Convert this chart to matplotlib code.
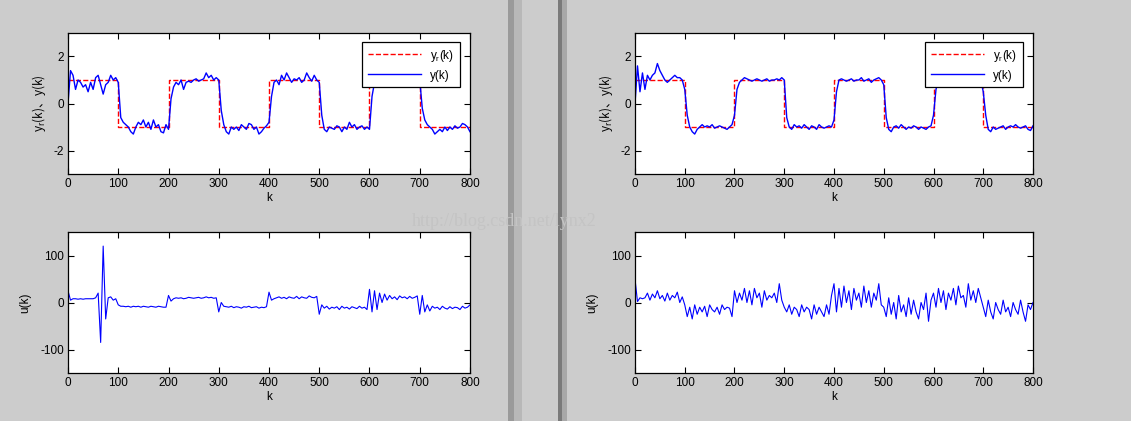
import numpy as np
import matplotlib
matplotlib.use('Agg')
import matplotlib.pyplot as plt
from matplotlib.patches import Rectangle

plt.rcParams['font.family'] = ['Liberation Sans', 'Noto Sans CJK SC']
plt.rcParams['mathtext.fontset'] = 'custom'
plt.rcParams['mathtext.rm'] = 'Liberation Sans'
plt.rcParams['mathtext.sf'] = 'Noto Sans CJK SC'
plt.rcParams['axes.unicode_minus'] = False
plt.rcParams['font.size'] = 8.5

# sample step of the read-off values
step = 5

# reference levels, one per block of 100 samples
yr_levels = [1, -1, 1, -1, 1, -1, 1, -1]

# left window: output y(k), every 5 samples from 0 to 800
y_left = [0, 1.4, 1.2, 0.6, 1.0, 0.9, 0.7, 0.8, 0.5, 0.9, 0.6, 1.1, 1.2, 0.8, 0.4, 0.8, 0.9, 1.2, 1.0, 1.1, 0.9,
          -0.6, -0.8, -0.9, -1.0, -1.2, -1.3, -1.0, -0.8, -0.9, -0.7, -1.0, -0.8, -1.1, -0.7, -1.0, -0.9, -1.2, -1.25, -0.9, -1.1,
          0.2, 0.7, 0.9, 0.8, 1.0, 0.6, 0.9, 0.95, 0.9, 1.0, 1.05, 0.95, 1.0, 1.05, 1.3, 1.1, 1.2, 1.0, 1.1, 1.0,
          -0.3, -0.9, -1.2, -1.3, -1.0, -1.1, -1.0, -1.15, -0.9, -1.0, -1.1, -0.85, -0.9, -1.1, -1.0, -1.3, -1.2, -1.05, -0.95, -0.8,
          0.3, 0.9, 1.0, 0.8, 1.2, 1.0, 1.3, 1.1, 0.9, 1.05, 1.0, 1.1, 0.9, 1.0, 1.3, 1.1, 0.95, 1.2, 1.0, 0.9,
          -0.5, -1.1, -1.2, -1.0, -1.05, -1.1, -0.95, -1.0, -1.2, -1.0, -1.1, -0.8, -1.0, -0.9, -1.1, -1.0, -0.95, -1.1, -1.0, -1.1,
          0.3, 0.9, 1.0, 1.1, 1.0, 0.9, 1.2, 1.0, 1.1, 1.0, 1.2, 1.0, 0.9, 1.1, 1.0, 1.05, 0.95, 1.0, 1.1, 1.0,
          -0.2, -0.7, -0.9, -1.0, -1.1, -1.3, -1.2, -1.1, -1.2, -1.0, -1.15, -1.0, -1.1, -0.95, -1.05, -1.0, -0.85, -0.9, -1.0, -1.2]

# right window: output y(k)
y_right = [0, 1.6, 0.5, 1.3, 0.6, 1.2, 1.0, 1.2, 1.3, 1.7, 1.4, 1.2, 1.0, 0.9, 1.0, 1.1, 1.2, 1.1, 1.1, 1.0, 0.6,
           -0.5, -1.0, -1.2, -1.3, -1.1, -1.0, -0.9, -1.0, -0.95, -1.0, -0.9, -1.05, -1.0, -0.95, -1.0, -1.05, -1.1, -1.0, -0.9, -0.5,
           0.6, 0.9, 1.0, 1.1, 1.05, 1.0, 0.95, 1.0, 1.05, 1.0, 0.95, 1.0, 1.05, 0.95, 1.0, 1.0, 1.05, 1.0, 1.1, 1.0,
           -0.6, -1.0, -1.1, -0.9, -1.0, -0.95, -1.05, -0.9, -1.0, -1.1, -0.95, -1.0, -1.1, -0.9, -1.0, -1.05, -1.0, -0.95, -1.0, -0.7,
           0.5, 1.0, 1.05, 1.0, 0.95, 1.0, 1.05, 0.95, 1.0, 1.0, 1.1, 0.95, 1.0, 1.05, 0.9, 1.0, 1.05, 1.1, 1.0, 0.8,
           -0.6, -1.1, -1.2, -1.0, -0.95, -1.05, -0.9, -1.0, -1.1, -1.0, -1.05, -0.95, -1.0, -1.1, -1.0, -1.05, -1.1, -1.0, -0.95, -0.5,
           0.6, 1.0, 1.1, 1.05, 1.2, 1.0, 1.1, 1.0, 1.05, 0.95, 1.0, 1.05, 1.0, 0.95, 1.0, 1.05, 1.0, 0.95, 1.0, 0.5,
           -0.5, -1.1, -1.2, -1.0, -1.1, -1.05, -1.0, -0.95, -1.1, -1.0, -0.95, -1.0, -0.9, -1.0, -1.05, -1.0, -0.95, -1.1, -1.15, -0.95]

# left window: control u(k)
u_left = [25, 5, 8, 8, 7, 8, 7, 8, 8, 8, 8, 10, 20, -85, 120, -35, 10, 12, 5, 8,
          -5, -8, -8, -9, -8, -10, -8, -9, -8, -10, -8, -9, -10, -8, -9, -10, -8, -9, -10, -10,
          15, 3, 8, 10, 9, 10, 8, 9, 11, 10, 9, 10, 11, 9, 10, 12, 10, 11, 9, 10,
          -20, 0, -8, -9, -10, -8, -11, -9, -10, -12, -9, -10, -8, -11, -10, -9, -12, -10, -11, -9,
          22, 5, 8, 10, 12, 9, 11, 8, 12, 10, 9, 13, 8, 12, 10, 9, 14, 11, 10, 13,
          -25, -5, -12, -8, -14, -10, -12, -9, -15, -8, -12, -10, -14, -9, -11, -13, -8, -12, -10, -15,
          28, -20, 25, -15, 20, 0, 18, 5, 15, 8, 12, 6, 14, 10, 12, 8, 13, 9, 11, 14,
          -25, 15, -20, -5, -18, -8, -12, -10, -15, -8, -12, -14, -9, -13, -10, -11, -15, -8, -12, -10, -5]

# right window: control u(k)
u_right = [50, 2, 10, 8, 10, 20, 5, 18, 10, 25, 8, 15, 3, 20, 5, 15, 10, 22, 0, 12,
           -5, -30, -10, -35, -5, -25, -10, -20, -8, -30, -5, -15, -20, -10, -25, -5, -15, -10, -12, -30,
           25, 0, 20, 5, 30, 0, 25, -5, 30, 10, 20, -10, 25, 5, 15, 10, 20, 0, 40, 5,
           -10, -20, -5, -25, -10, -15, -30, -5, -20, -10, -15, -35, -5, -25, -10, -20, -30, -5, -25, 15,
           40, -20, 30, -10, 35, 0, 25, -15, 30, 5, 20, -10, 35, 0, 25, -10, 20, 5, 40, -5,
           -10, -30, 10, -25, 0, -35, 15, -20, -5, -30, 10, -25, 5, -20, -35, 0, -15, 20, -40, 5,
           20, -10, 30, 0, 25, -15, 20, 5, 30, -5, 35, 10, 15, -10, 40, 5, 25, 0, 30, 10,
           -10, -30, 5, -20, -35, 0, -15, -25, 5, -20, -10, -30, 0, -15, -25, 5, -20, -40, -5, -15, 0]

W, H = 1131, 421
fig = plt.figure(figsize=(W / 100, H / 100), dpi=100, facecolor='#cccccc')

# window borders between the two screenshots
for x0, w, c in [(508, 6, '#9a9a9a'), (514, 8, '#b8b8b8'), (558, 4, '#7a7a7a'), (562, 5, '#a8a8a8')]:
    fig.patches.append(Rectangle((x0 / W, 0), w / W, 1, transform=fig.transFigure,
                                 facecolor=c, edgecolor='none', zorder=0))


def pos(x0, x1, y0, y1):
    return [x0 / W, 1 - y1 / H, (x1 - x0) / W, (y1 - y0) / H]


def style(ax):
    ax.set_xlim(0, 800)
    ax.set_xticks(range(0, 801, 100))
    ax.tick_params(direction='in', top=True, right=True, length=4, width=0.8, pad=3, labelsize=8.5)
    for s in ax.spines.values():
        s.set_linewidth(0.9)
    ax.set_xlabel('k', labelpad=1)


def draw(x0, x1, y, u):
    k = np.arange(len(y)) * step
    ku = np.arange(len(u)) * step
    ax1 = fig.add_axes(pos(x0, x1, 33, 174))
    kr = np.arange(0, 801, 100)
    ax1.step(kr, yr_levels + [yr_levels[-1]], where='post', color='red', ls='--', lw=1, label='$\\mathregular{y_r(k)}$')
    ax1.plot(k, y, color='blue', lw=1, label='y(k)')
    ax1.set_ylim(-3, 3)
    ax1.set_yticks([-2, 0, 2])
    ax1.set_ylabel('$\\mathsf{y_r(k)、y(k)}$', labelpad=4)
    style(ax1)
    leg = ax1.legend(loc='upper right', bbox_to_anchor=(0.99, 0.98), fancybox=False,
                     edgecolor='black', framealpha=1, fontsize=8.5, handlelength=4.5, borderpad=0.5)
    leg.get_frame().set_linewidth(0.9)

    ax2 = fig.add_axes(pos(x0, x1, 232, 373))
    ax2.plot(ku, u, color='blue', lw=0.8)
    ax2.set_ylim(-150, 150)
    ax2.set_yticks([-100, 0, 100])
    ax2.set_ylabel('u(k)', labelpad=6)
    style(ax2)


draw(68, 470, y_left, u_left)
draw(635, 1033, y_right, u_right)

fig.text(412 / W, 1 - 226 / H, 'http://blog.csdn.net/lynx2', family='Liberation Serif',
         fontsize=13, color='#c4c4c4', zorder=10)

fig.savefig('out.png', dpi=100, facecolor=fig.get_facecolor())
